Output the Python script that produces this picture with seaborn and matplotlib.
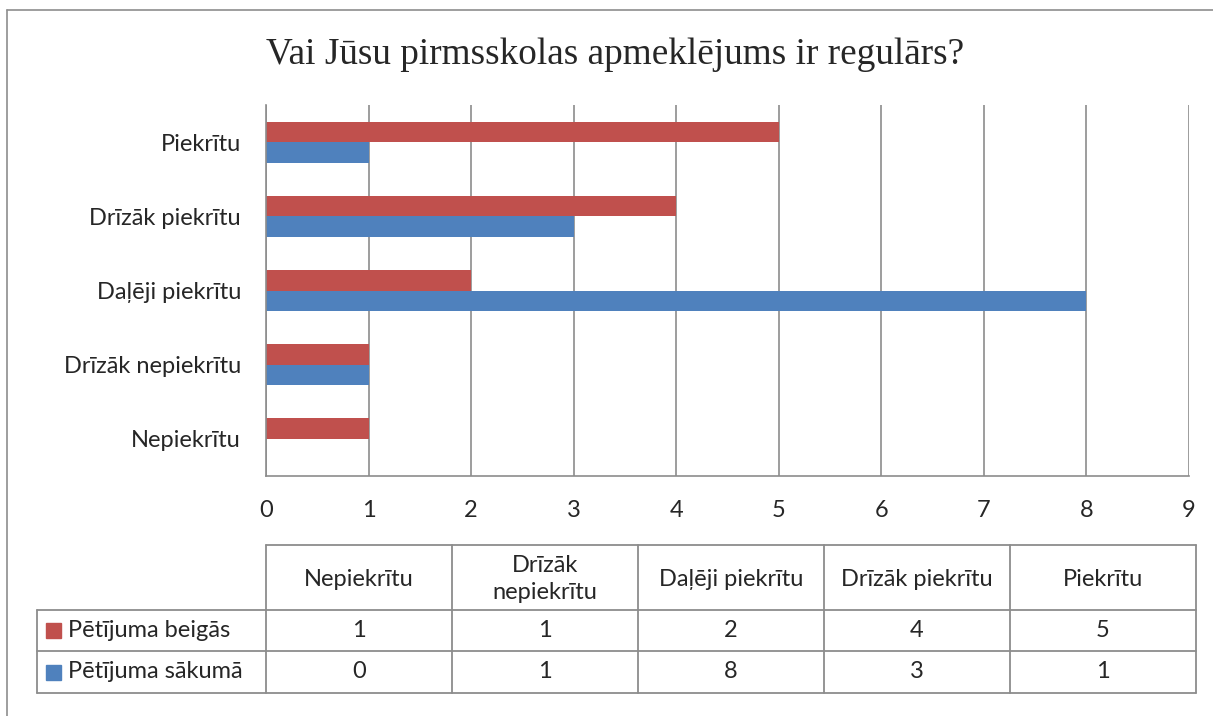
import matplotlib
matplotlib.use("Agg")
import matplotlib.pyplot as plt
import seaborn as sns
import pandas as pd
from matplotlib.lines import Line2D
from matplotlib.patches import Rectangle

# ---- data ----
categories = ["Piekrītu", "Drīzāk piekrītu", "Daļēji piekrītu", "Drīzāk nepiekrītu", "Nepiekrītu"]
series_names = ["Pētījuma beigās", "Pētījuma sākumā"]
beigas = [5, 4, 2, 1, 1]
sakuma = [1, 3, 8, 1, 0]
table_headers = ["Nepiekrītu", "Drīzāk\nnepiekrītu", "Daļēji piekrītu", "Drīzāk piekrītu", "Piekrītu"]
title = "Vai Jūsu pirmsskolas apmeklējums ir regulārs?"
x_ticks = list(range(0, 10))

colors = {"Pētījuma beigās": "#C0504D", "Pētījuma sākumā": "#4F81BD"}

df = pd.DataFrame({
    "cat": categories * 2,
    "series": [series_names[0]] * len(categories) + [series_names[1]] * len(categories),
    "value": beigas + sakuma,
})

sns.set_style("white")
plt.rcParams["font.family"] = ["Lato", "DejaVu Sans"]

FS = 17

W, H = 1213, 716
fig = plt.figure(figsize=(W / 100, H / 100), dpi=100)

def fx(px):
    return px / W

def fy(py):
    return 1 - py / H

ax = fig.add_axes([fx(266), fy(476), fx(1189) - fx(266), fy(105) - fy(476)])
sns.barplot(data=df, y="cat", x="value", hue="series", order=categories,
            hue_order=series_names, palette=colors, orient="h", width=0.55,
            ax=ax, legend=False, saturation=1, linewidth=0)

grid_c = "#8C8C8C"
ax.set_xlim(0, 9)
ax.set_xticks(x_ticks)
ax.set_xticklabels([str(t) for t in x_ticks], fontsize=FS)
ax.set_xlabel("")
ax.set_ylabel("")
ax.tick_params(axis="x", length=0, pad=17)
ax.tick_params(axis="y", length=0, pad=18, labelsize=FS)
for t in x_ticks:
    ax.axvline(t, color=grid_c, lw=1.2, zorder=0)
for s in ["top", "right"]:
    ax.spines[s].set_visible(False)
for s in ["left", "bottom"]:
    ax.spines[s].set_color(grid_c)
    ax.spines[s].set_linewidth(1.2)

fig.text(fx(615), fy(55), title, ha="center", va="center",
         fontsize=26.8, family="Liberation Serif")

# outer frame (left and top)
frame_c = "#8E8E8E"
fig.add_artist(Line2D([fx(7), fx(7)], [fy(10), 0], color=frame_c, lw=1.2, transform=fig.transFigure))
fig.add_artist(Line2D([fx(7), 1], [fy(10), fy(10)], color=frame_c, lw=1.2, transform=fig.transFigure))

# ---- data table ----
tc = "#8C8C8C"
col_edges = [266, 452, 638, 824, 1010, 1196]
y_head_top, y_r1, y_r2, y_bot = 545, 610, 651, 693
x_left = 37

def hline(x0, x1, y):
    fig.add_artist(Line2D([fx(x0), fx(x1)], [fy(y), fy(y)], color=tc, lw=1.3, transform=fig.transFigure))

def vline(x, y0, y1):
    fig.add_artist(Line2D([fx(x), fx(x)], [fy(y0), fy(y1)], color=tc, lw=1.3, transform=fig.transFigure))

hline(266, 1196, y_head_top)
hline(x_left, 1196, y_r1)
hline(x_left, 1196, y_r2)
hline(x_left, 1196, y_bot)
for xe in col_edges:
    vline(xe, y_head_top, y_bot)
vline(x_left, y_r1, y_bot)

# header texts
order_table = categories[::-1]
for i, lab in enumerate(table_headers):
    cx = (col_edges[i] + col_edges[i + 1]) / 2
    fig.text(fx(cx), fy(579), lab, ha="center", va="center", fontsize=FS, linespacing=1.3)

rows = [(series_names[0], beigas), (series_names[1], sakuma)]
row_centers = [(y_r1 + y_r2) / 2, (y_r2 + y_bot) / 2]
for (name, vals), cy in zip(rows, row_centers):
    vals_by_cat = dict(zip(categories, vals))
    fig.add_artist(Rectangle((fx(46), fy(cy + 7.5)), fx(15), fy(0) - fy(15),
                             color=colors[name], transform=fig.transFigure))
    fig.text(fx(68), fy(cy), name, ha="left", va="center", fontsize=FS)
    for i, cat in enumerate(order_table):
        cx = (col_edges[i] + col_edges[i + 1]) / 2
        fig.text(fx(cx), fy(cy), str(vals_by_cat[cat]), ha="center", va="center", fontsize=FS)

fig.savefig("out.png", dpi=100, facecolor="white")
